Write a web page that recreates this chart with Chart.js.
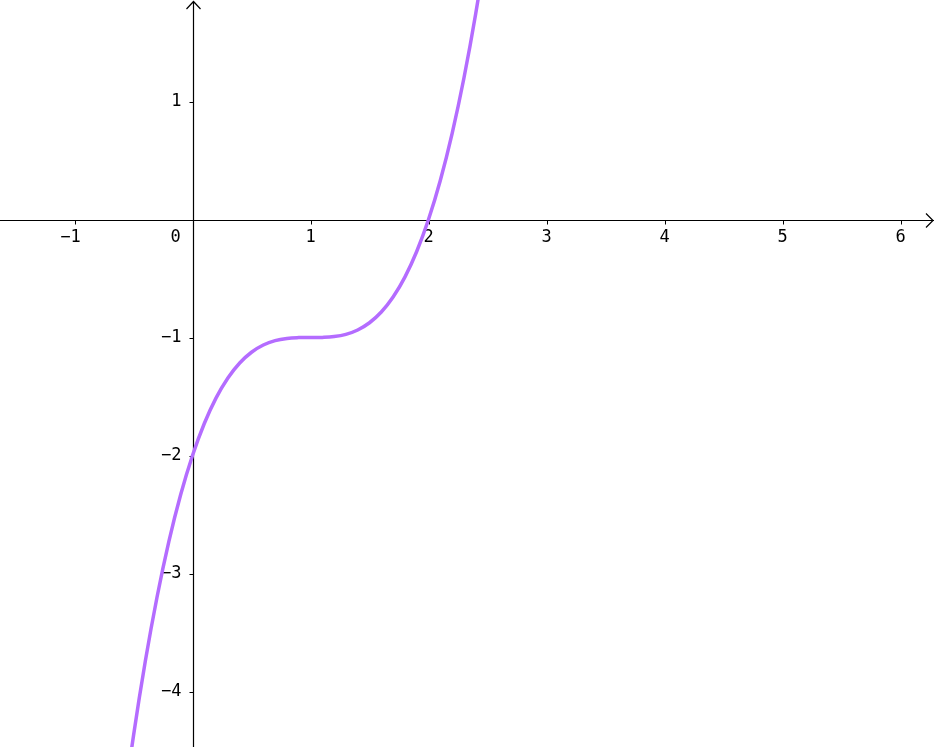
<!DOCTYPE html>
<html>
<head>
<meta charset="utf-8">
<script src="https://cdn.jsdelivr.net/npm/chart.js@4"></script>
<style>
  html, body { margin: 0; padding: 0; background: #fff; overflow: hidden; }
  canvas { display: block; }
</style>
</head>
<body>
<canvas id="plot" width="935" height="747"></canvas>
<script>
// points
const xValues = [-0.6, -0.5, -0.4, -0.3, -0.2, -0.1, 0, 0.1, 0.2, 0.3, 0.4, 0.5, 0.6, 0.7, 0.8, 0.9,
  1, 1.1, 1.2, 1.3, 1.4, 1.5, 1.6, 1.7, 1.8, 1.9, 2, 2.1, 2.2, 2.3, 2.4, 2.5];
const yValues = [-5.096, -4.375, -3.744, -3.197, -2.728, -2.331, -2, -1.729, -1.512, -1.343, -1.216, -1.125, -1.064, -1.027, -1.008, -1.001,
  -1, -0.999, -0.992, -0.973, -0.936, -0.875, -0.784, -0.657, -0.488, -0.271, 0, 0.331, 0.728, 1.197, 1.744, 2.375];
const xTicks = [-1, 1, 2, 3, 4, 5, 6];
const yTicks = [1, -1, -2, -3, -4];
const originLabel = "0";

const curveColor = "#b46cff";
const labelFont = "17px 'DejaVu Sans Mono'";

const points = xValues.map((x, i) => ({ x: x, y: yValues[i] }));

function fmt(v) {
  return v < 0 ? "\u2212" + Math.abs(v) : String(v);
}

// axes with arrows, small ticks and labels
const axesPlugin = {
  id: "axes",
  beforeDatasetsDraw(chart) {
    const ctx = chart.ctx;
    const xs = chart.scales.x, ys = chart.scales.y;
    const ox = Math.round(xs.getPixelForValue(0)) + 0.5;
    const oy = Math.round(ys.getPixelForValue(0)) + 0.5;
    const W = chart.width, H = chart.height;
    ctx.save();
    ctx.strokeStyle = "#000";
    ctx.lineWidth = 1.2;
    ctx.beginPath();
    ctx.moveTo(0, oy); ctx.lineTo(W - 1, oy);
    ctx.moveTo(ox, H); ctx.lineTo(ox, 1);
    // arrow heads
    ctx.moveTo(W - 9, oy - 7); ctx.lineTo(W - 2, oy); ctx.lineTo(W - 9, oy + 7);
    ctx.moveTo(ox - 7, 9); ctx.lineTo(ox, 1.5); ctx.lineTo(ox + 7, 9);
    ctx.stroke();

    ctx.fillStyle = "#000";
    ctx.font = labelFont;
    ctx.lineWidth = 1;
    ctx.beginPath();
    xTicks.forEach(v => {
      const px = Math.round(xs.getPixelForValue(v)) + 0.5;
      ctx.moveTo(px, oy); ctx.lineTo(px, oy + 4);
    });
    yTicks.forEach(v => {
      const py = Math.round(ys.getPixelForValue(v)) + 0.5;
      ctx.moveTo(ox - 4, py); ctx.lineTo(ox, py);
    });
    ctx.stroke();

    ctx.textAlign = "center";
    ctx.textBaseline = "middle";
    xTicks.forEach(v => {
      const px = xs.getPixelForValue(v);
      ctx.fillText(fmt(v), v < 0 ? px - 4 : px, oy + 17);
    });
    ctx.fillText(originLabel, ox - 18, oy + 17);
    ctx.textAlign = "right";
    yTicks.forEach(v => {
      ctx.fillText(fmt(v), ox - 12, ys.getPixelForValue(v));
    });
    ctx.restore();
  }
};

const unit = 118;
const originPx = { x: 192.5, y: 219.5 };
const xMin = -originPx.x / unit, xMax = xMin + 935 / unit;
const yMax = originPx.y / unit, yMin = yMax - 747 / unit;

new Chart(document.getElementById("plot"), {
  type: "line",
  data: {
    datasets: [{
      data: points,
      borderColor: curveColor,
      borderWidth: 3.5,
      pointRadius: 0,
      fill: false,
      tension: 0.4
    }]
  },
  options: {
    responsive: false,
    animation: false,
    devicePixelRatio: 1,
    layout: { padding: 0 },
    plugins: { legend: { display: false }, tooltip: { enabled: false } },
    scales: {
      x: { type: "linear", min: xMin, max: xMax, display: false },
      y: { type: "linear", min: yMin, max: yMax, display: false }
    }
  },
  plugins: [axesPlugin]
});
</script>
</body>
</html>
